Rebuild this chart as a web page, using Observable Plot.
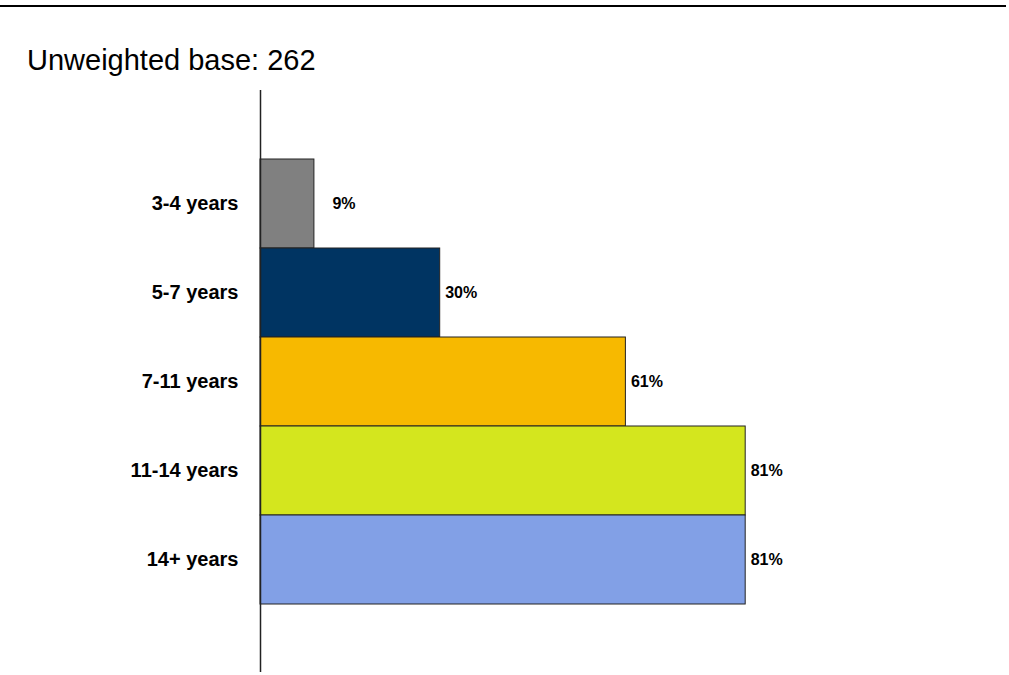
<!DOCTYPE html>
<html>
<head>
<meta charset="utf-8">
<script src="https://cdn.jsdelivr.net/npm/d3@7"></script>
<script src="https://cdn.jsdelivr.net/npm/@observablehq/plot@0.6"></script>
<style>
  html, body { margin: 0; padding: 0; background: #fff; }
  #wrap { position: relative; width: 1009px; height: 675px; font-family: Arial, "Liberation Sans", sans-serif; }
  #topline { position: absolute; left: 0; top: 5px; width: 1006px; height: 2px; background: #000; }
  #title { position: absolute; left: 27px; top: 46px; font-size: 29px; line-height: 29px; color: #000; white-space: nowrap; }
  #chart { position: absolute; left: 0; top: 0; }
</style>
</head>
<body>
<div id="wrap">
  <div id="topline"></div>
  <div id="title">Unweighted base: 262</div>
  <div id="chart"></div>
</div>
<script>
const categories = ["3-4 years", "5-7 years", "7-11 years", "11-14 years", "14+ years"];
const values = [9, 30, 61, 81, 81];
const colors = ["#808080", "#003462", "#F7B900", "#D4E61E", "#82A0E6"];

const data = categories.map((c, i) => ({category: c, value: values[i], color: colors[i], label: values[i] + "%"}));

const chart = Plot.plot({
  width: 1009,
  height: 675,
  marginLeft: 260,
  marginRight: 150,
  marginTop: 90,
  marginBottom: 3,
  style: {fontFamily: "Arial, 'Liberation Sans', sans-serif", color: "#000", background: "transparent"},
  x: {domain: [0, 100], axis: null},
  y: {domain: categories, paddingInner: 0, paddingOuter: 0.755, axis: null},
  marks: [
    Plot.barX(data, {y: "category", x: "value", fill: "color", stroke: "#222", strokeWidth: 1}),
    Plot.ruleX([0], {stroke: "#222", strokeWidth: 1.5}),
    Plot.axisY({tickSize: 0, tickPadding: 22, fontSize: 20, fontWeight: "bold", label: null, fill: "#000"}),
    Plot.text(data.filter(d => d.value >= 15), {y: "category", x: "value", text: "label", textAnchor: "start", dx: 5, fontSize: 16, fontWeight: "bold", fill: "#000"}),
    Plot.text(data.filter(d => d.value < 15), {y: "category", x: "value", text: "label", textAnchor: "start", dx: 18, fontSize: 16, fontWeight: "bold", fill: "#000"})
  ]
});
document.getElementById("chart").appendChild(chart);
</script>
</body>
</html>
